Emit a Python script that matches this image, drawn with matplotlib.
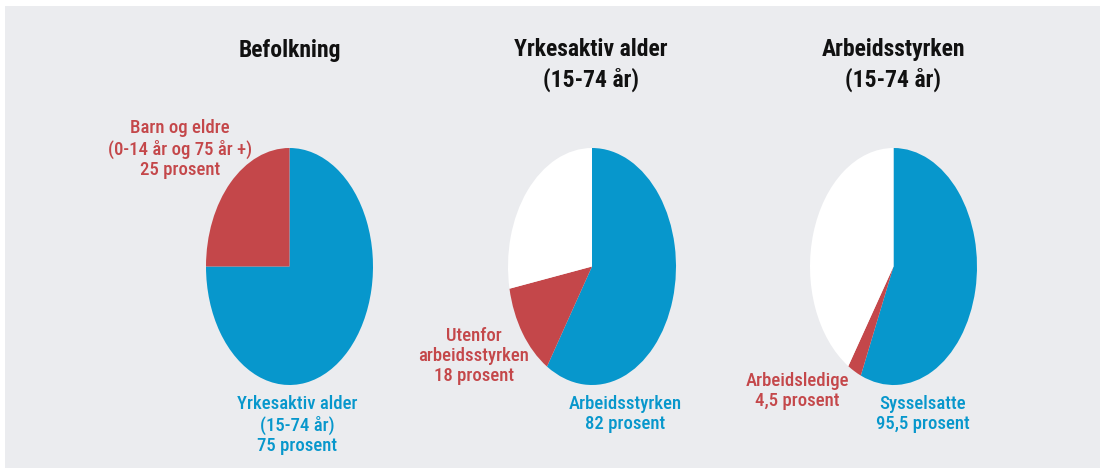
import matplotlib
matplotlib.use("Agg")
import matplotlib.pyplot as plt
from matplotlib.patches import Rectangle
from matplotlib import font_manager

W, H = 1101, 471

# Data (shares of each pie): blue, red, white
titles = ["Befolkning", "Yrkesaktiv alder\n(15-74 år)", "Arbeidsstyrken\n(15-74 år)"]
pie1_values = [75, 25, 0]
pie2_values = [59, 13, 28]
pie3_values = [56.4, 2.7, 40.9]
blue_labels = ["Yrkesaktiv alder\n(15-74 år)\n75 prosent", "Arbeidsstyrken\n82 prosent", "Sysselsatte\n95,5 prosent"]
red_labels = ["Barn og eldre\n(0-14 år og 75 år +)\n25 prosent", "Utenfor\narbeidsstyrken\n18 prosent", "Arbeidsledige\n4,5 prosent"]

BLUE = "#0797cc"
RED = "#c4474a"
BG = "#ebecef"

names = {f.name for f in font_manager.fontManager.ttflist}
prefs = ['Roboto Condensed', 'Roboto', 'DejaVu Sans']
fam = [p for p in prefs if p in names] + ['DejaVu Sans']
plt.rcParams['font.family'] = fam

fig = plt.figure(figsize=(W / 100, H / 100), dpi=100, facecolor="white")
fig.patches.append(Rectangle((5 / W, 1 - 468 / H), 1095 / W, 462 / H,
                             transform=fig.transFigure, facecolor=BG, edgecolor="none", zorder=-10))

def fx(x):
    return x / W

def fy(y):
    return 1 - y / H

boxes = [(206, 148, 373, 385), (508, 148, 676, 385), (810, 148, 977, 385)]
all_values = [pie1_values, pie2_values, pie3_values]
for (x0, y0, x1, y1), vals in zip(boxes, all_values):
    ax = fig.add_axes([fx(x0), fy(y1), (x1 - x0) / W, (y1 - y0) / H])
    ax.pie(vals, colors=[BLUE, RED, "white"], startangle=90, counterclock=False,
           radius=1, wedgeprops=dict(linewidth=0))
    ax.set_aspect("auto")
    ax.set_xlim(-1, 1)
    ax.set_ylim(-1, 1)
    ax.axis("off")

title_pos = [(290, 50), (591, 65), (893, 65)]
for t, (x, y) in zip(titles, title_pos):
    fig.text(fx(x), fy(y), t, ha="center", va="center", fontsize=17, fontweight="bold",
             color="#111111", linespacing=1.3)

red_pos = [(180, 149), (474, 356), (797, 391)]
blue_pos = [(297, 425), (625, 414), (923, 414)]
for t, (x, y) in zip(red_labels, red_pos):
    fig.text(fx(x), fy(y), t, ha="center", va="center", fontsize=13.5, fontweight="medium",
             color=RED, linespacing=1.15)
for t, (x, y) in zip(blue_labels, blue_pos):
    fig.text(fx(x), fy(y), t, ha="center", va="center", fontsize=13.5, fontweight="medium",
             color=BLUE, linespacing=1.15)

fig.savefig("out.png", dpi=100, facecolor="white")
